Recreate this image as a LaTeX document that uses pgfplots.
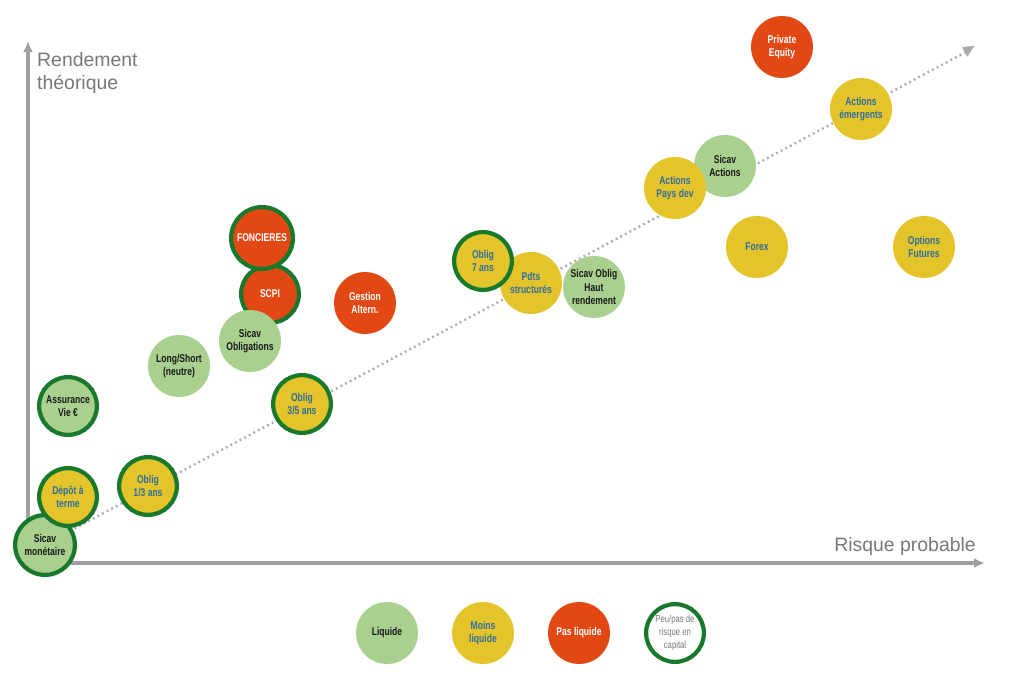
\documentclass[border=0pt]{standalone}
\usepackage{pgfplots}
\pgfplotsset{compat=1.18}
\usepackage{pgfplotstable}
\usepackage{fontspec}
\setmainfont{Liberation Sans}
\newfontfamily\cond[FakeStretch=0.76]{Liberation Sans}
\usetikzlibrary{arrows.meta}
\definecolor{lgreen}{RGB}{169,208,142}
\definecolor{yel}{RGB}{228,196,43}
\definecolor{rouge}{RGB}{226,72,20}
\definecolor{dgreen}{RGB}{24,120,44}
\definecolor{txtblue}{RGB}{46,110,160}
\definecolor{txtdark}{RGB}{25,25,25}
\definecolor{txtgrey}{RGB}{120,120,120}
\definecolor{axgrey}{RGB}{160,160,160}
\definecolor{dotgrey}{RGB}{170,170,170}

\pgfplotstableread[col sep=comma]{
x,y,r,cls
45,136,30,lgb
68,184,29,ylb
148,195,29,ylb
68,275,29,lgb
179,315,31,lg
270,387,29,rdb
262,443,31,rdb
250,340,31,lg
365,378,31,rd
302,277,29,ylb
531,398,31,yl
483,420,29,ylb
594,394,31,lg
725,515,31,lg
675,493,31,yl
757,434,31,yl
861,572,31,yl
924,434,31,yl
782,634,31,rd
387,48,31,lg
483,48,31,yl
579,48,31,rd
675,48,29,wb
}\bubbles

\pgfplotstableread[col sep=comma]{
x,y,label
45,136,Sicav\\monétaire
68,275,Assurance\\Vie €
179,315,Long/Short\\(neutre)
250,340,Sicav\\Obligations
594,394,Sicav Oblig\\Haut\\rendement
725,515,Sicav\\Actions
387,48,Liquide
}\darktext

\pgfplotstableread[col sep=comma]{
x,y,label
68,184,Dépôt à\\terme
148,195,Oblig\\1/3 ans
302,277,Oblig\\3/5 ans
531,398,Pdts\\structurés
483,420,Oblig\\7 ans
675,493,Actions\\Pays dev
757,434,Forex
861,572,Actions\\émergents
924,434,Options\\Futures
483,48,Moins\\liquide
}\bluetext

\pgfplotstableread[col sep=comma]{
x,y,label
270,387,SCPI
262,443,FONCIERES
365,378,Gestion\\Altern.
782,634,Private\\Equity
579,48,Pas liquide
}\whitetext

\pgfplotstableread[col sep=comma]{
x,y,label
675,48,Peu/pas de\\risque en\\capital
}\greytext

\begin{document}
\begin{tikzpicture}
\begin{axis}[
  scale only axis, width=1024bp, height=681bp,
  xmin=0, xmax=1024, ymin=0, ymax=681,
  hide axis, clip=false,
  lbl/.style={only marks, mark=none,
    point meta=explicit symbolic,
    nodes near coords, nodes near coords align={center},
    every node near coord/.append style={
      anchor=center, align=center, inner sep=0pt, text=#1,
      font=\cond\bfseries\fontsize{11.3}{13.5}\selectfont}},
]
% axes arrows
\draw[axgrey, line width=3.6bp, -{Latex[length=11bp,width=10bp]}] (axis cs:28,118) -- (axis cs:28,640);
\draw[axgrey, line width=3.6bp, -{Latex[length=11bp,width=10bp]}] (axis cs:26.2,118) -- (axis cs:985,118);
% trend line
\draw[dotgrey, line width=2.4bp, dash pattern=on 1.8bp off 3.4bp] (axis cs:70,150) -- (axis cs:966,629);
\draw[dotgrey, fill=dotgrey] (axis cs:974,635) -- (axis cs:962.5,633.6) -- (axis cs:967.3,624.6) -- cycle;
\node[anchor=north west, align=left, text=txtgrey, font=\fontsize{19.5}{23}\selectfont, inner sep=0pt] at (axis cs:37,629) {Rendement\\théorique};
\node[anchor=east, text=txtgrey, font=\fontsize{19.5}{23}\selectfont, inner sep=0pt] at (axis cs:976,135) {Risque probable};

\addplot[
  scatter, only marks, mark=*,
  point meta=explicit symbolic,
  scatter/classes={
    lgb={mark=*, fill=lgreen, draw=dgreen, line width=4.2bp},
    ylb={mark=*, fill=yel, draw=dgreen, line width=4.2bp},
    rdb={mark=*, fill=rouge, draw=dgreen, line width=4.2bp},
    wb={mark=*, fill=white, draw=dgreen, line width=4.2bp},
    lg={mark=*, fill=lgreen, draw=lgreen, line width=0.1bp},
    yl={mark=*, fill=yel, draw=yel, line width=0.1bp},
    rd={mark=*, fill=rouge, draw=rouge, line width=0.1bp}
  },
  visualization depends on={\thisrow{r} \as \rad},
  scatter/@pre marker code/.append style={/tikz/mark size=\rad},
] table[x=x, y=y, meta=cls] {\bubbles};

\addplot[lbl=txtdark] table[x=x, y=y, meta=label] {\darktext};
\addplot[lbl=txtblue] table[x=x, y=y, meta=label] {\bluetext};
\addplot[lbl=white] table[x=x, y=y, meta=label] {\whitetext};
\addplot[only marks, mark=none, point meta=explicit symbolic,
  nodes near coords, nodes near coords align={center},
  every node near coord/.append style={anchor=center, align=center, inner sep=0pt, text=txtgrey,
    font=\cond\fontsize{10.2}{12.8}\selectfont}] table[x=x, y=y, meta=label] {\greytext};
\end{axis}
\pgfresetboundingbox
\useasboundingbox (current axis.south west) rectangle (current axis.north east);
\end{tikzpicture}
\end{document}
